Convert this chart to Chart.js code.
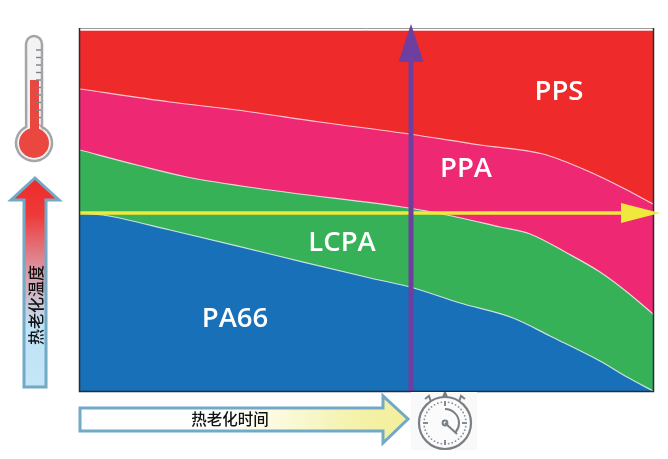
<!DOCTYPE html>
<html lang="zh">
<head>
<meta charset="utf-8">
<title>热老化温度与时间</title>
<script src="https://cdn.jsdelivr.net/npm/chart.js@4/dist/chart.umd.min.js"></script>
<style>html,body{margin:0;padding:0;background:#fff}canvas{display:block}</style>
</head>
<body>
<canvas id="c" width="668" height="459"></canvas>
<script>
// Boundaries: time (arbitrary 0..573), temperature (arbitrary 0..362)
const pa66Time = [0, 23, 90, 190, 290, 330, 380, 433, 470, 520, 547, 573];
const pa66Temp = [178, 176, 161, 137, 113, 104, 88, 73, 55, 30, 14, 0];
const lcpaTime = [0, 57, 107, 190, 329, 367, 420, 450, 487, 520, 547, 573];
const lcpaTemp = [241, 226, 214, 201, 183, 176, 164, 157, 138, 119, 99, 77];
const ppaTime = [0, 90, 157, 240, 329, 400, 463, 510, 545, 573];
const ppaTemp = [302, 289, 281, 269, 257, 246, 237, 219, 202, 187];
const ppsTime = [0, 573];
const ppsTemp = [362, 362];
const nowTime = [331, 331];
const nowTemp = [0, 329];
const refTime = [0, 541];
const refTemp = [178, 178];
const seriesNames = ['PA66', 'LCPA', 'PPA', 'PPS'];
const labelTime = [155, 262, 386, 479];
const labelTemp = [72, 148, 222, 299];
const tempAxisTitle = '热老化温度';
const timeAxisTitle = '热老化时间';

const pts = (xs, ys) => xs.map((x, i) => ({x, y: ys[i]}));
const band = (label, xs, ys, color) => ({
  label, data: pts(xs, ys), backgroundColor: color, fill: 'origin',
  borderColor: 'rgba(255,255,255,0.75)', borderWidth: 1.2, pointRadius: 0,
  cubicInterpolationMode: 'monotone'
});
const guide = (label, xs, ys, color, w) => ({
  label, data: pts(xs, ys), borderColor: color, borderWidth: w, pointRadius: 0, fill: false, clip: false
});

function poly(ctx, p) {
  ctx.beginPath();
  p.forEach((q, i) => i ? ctx.lineTo(q[0], q[1]) : ctx.moveTo(q[0], q[1]));
  ctx.closePath();
}

function drawThermometer(ctx) {
  ctx.save();
  // glass
  ctx.beginPath();
  ctx.moveTo(26, 44);
  ctx.arc(34, 44, 8, Math.PI, 0);
  ctx.lineTo(42, 127);
  ctx.arc(34, 143, 18, -Math.PI / 2 + 0.45, -Math.PI / 2 - 0.45);
  ctx.closePath();
  ctx.fillStyle = '#f3f3f4';
  ctx.fill();
  ctx.strokeStyle = '#a3a5a8';
  ctx.lineWidth = 2.5;
  ctx.stroke();
  // mercury
  ctx.fillStyle = '#e9473f';
  ctx.fillRect(30, 80, 9, 55);
  ctx.beginPath();
  ctx.arc(34, 143, 15, 0, Math.PI * 2);
  ctx.fill();
  // ticks
  ctx.strokeStyle = '#7d8185';
  ctx.lineWidth = 1.4;
  for (let y = 50; y <= 118; y += 7.5) {
    ctx.beginPath(); ctx.moveTo(36, y); ctx.lineTo(41, y); ctx.stroke();
  }
  ctx.restore();
}

function drawTempArrow(ctx) {
  ctx.save();
  const g = ctx.createLinearGradient(0, 177, 0, 388);
  g.addColorStop(0, '#ee2a2a');
  g.addColorStop(0.18, '#ee3a3a');
  g.addColorStop(0.42, '#dd8f9b');
  g.addColorStop(0.7, '#bfe3f6');
  g.addColorStop(1, '#c4e6f6');
  poly(ctx, [[35, 178], [59, 200], [46, 200], [46, 387], [24, 387], [24, 200], [11, 200]]);
  ctx.fillStyle = g;
  ctx.fill();
  ctx.strokeStyle = '#72a9c6';
  ctx.lineWidth = 3;
  ctx.lineJoin = 'miter';
  ctx.stroke();
  ctx.translate(36, 305);
  ctx.rotate(-Math.PI / 2);
  ctx.fillStyle = '#111111';
  ctx.font = '500 16px "Noto Sans CJK SC"';
  ctx.textAlign = 'center';
  ctx.textBaseline = 'middle';
  ctx.fillText(tempAxisTitle, 0, 0);
  ctx.restore();
}

function drawTimeArrow(ctx) {
  ctx.save();
  const g = ctx.createLinearGradient(80, 0, 409, 0);
  g.addColorStop(0, '#ffffff');
  g.addColorStop(0.45, '#ffffff');
  g.addColorStop(0.85, '#f4f1a8');
  g.addColorStop(1, '#f3ef9a');
  poly(ctx, [[80, 408], [383, 408], [383, 396], [408, 419], [383, 443], [383, 431], [80, 431]]);
  ctx.fillStyle = g;
  ctx.fill();
  ctx.strokeStyle = '#72a9c6';
  ctx.lineWidth = 3;
  ctx.stroke();
  ctx.fillStyle = '#111111';
  ctx.font = '500 15.5px "Noto Sans CJK SC"';
  ctx.textAlign = 'center';
  ctx.textBaseline = 'middle';
  ctx.fillText(timeAxisTitle, 230, 419);
  ctx.restore();
}

function drawStopwatch(ctx) {
  ctx.save();
  const cx = 445, cy = 423, r = 26;
  ctx.fillStyle = '#f9f9f9';
  ctx.fillRect(411, 392, 66, 58);
  ctx.strokeStyle = '#787f85';
  ctx.fillStyle = '#787f85';
  // crown and ears
  poly(ctx, [[442, 397], [448, 397], [446, 392], [444, 392]]);
  ctx.fill();
  ctx.lineWidth = 2;
  ctx.beginPath(); ctx.moveTo(425, 399); ctx.lineTo(429, 396); ctx.lineTo(431, 402); ctx.stroke();
  ctx.beginPath(); ctx.moveTo(465, 399); ctx.lineTo(461, 396); ctx.lineTo(459, 402); ctx.stroke();
  // case
  ctx.beginPath();
  ctx.arc(cx, cy, r, 0, Math.PI * 2);
  ctx.fillStyle = '#fbfbfb';
  ctx.fill();
  ctx.lineWidth = 2.2;
  ctx.stroke();
  // dial
  ctx.fillStyle = '#8a9096';
  for (let i = 0; i < 36; i++) {
    if (i % 9 === 0) continue;
    const a = i / 36 * Math.PI * 2;
    ctx.beginPath();
    ctx.arc(cx + Math.cos(a) * 21, cy + Math.sin(a) * 21, 0.9, 0, Math.PI * 2);
    ctx.fill();
  }
  ctx.lineWidth = 1.8;
  for (let i = 0; i < 4; i++) {
    const a = i / 4 * Math.PI * 2;
    ctx.beginPath();
    ctx.moveTo(cx + Math.cos(a) * 17, cy + Math.sin(a) * 17);
    ctx.lineTo(cx + Math.cos(a) * 22, cy + Math.sin(a) * 22);
    ctx.stroke();
  }
  // sweep and hand
  ctx.lineWidth = 2;
  ctx.beginPath();
  ctx.arc(cx, cy, 14, -Math.PI / 2, 0.7);
  ctx.stroke();
  ctx.beginPath();
  ctx.moveTo(cx, cy);
  ctx.lineTo(cx + 12, cy + 11);
  ctx.stroke();
  ctx.beginPath();
  ctx.arc(cx, cy, 2.4, 0, Math.PI * 2);
  ctx.stroke();
  ctx.restore();
}

const overlay = {
  id: 'overlay',
  afterDraw(chart) {
    const {ctx, scales: {x, y}, chartArea: a} = chart;
    // frame
    ctx.save();
    ctx.strokeStyle = 'rgba(255,225,225,0.8)';
    ctx.lineWidth = 1;
    ctx.beginPath(); ctx.moveTo(a.left, a.top + 0.5); ctx.lineTo(a.right, a.top + 0.5); ctx.stroke();
    ctx.strokeStyle = '#9a9a9a';
    ctx.beginPath(); ctx.moveTo(a.left - 1, a.top - 1.5); ctx.lineTo(a.right + 1, a.top - 1.5); ctx.stroke();
    ctx.strokeStyle = '#2b2b33';
    ctx.lineWidth = 1.5;
    ctx.beginPath();
    ctx.moveTo(a.left - 0.5, a.top - 2);
    ctx.lineTo(a.left - 0.5, a.bottom + 0.5);
    ctx.lineTo(a.right + 0.5, a.bottom + 0.5);
    ctx.lineTo(a.right + 0.5, a.top - 2);
    ctx.stroke();

    // arrow heads at the ends of the guide lines
    const hx = x.getPixelForValue(refTime[1]), hy = y.getPixelForValue(refTemp[1]);
    ctx.fillStyle = '#f0e83c';
    poly(ctx, [[hx, hy - 10], [hx + 39, hy], [hx, hy + 10]]);
    ctx.fill();
    const vx = x.getPixelForValue(nowTime[1]), vy = y.getPixelForValue(nowTemp[1]);
    ctx.fillStyle = '#6e3f9f';
    poly(ctx, [[vx - 12.5, vy], [vx, vy - 38], [vx + 12.5, vy]]);
    ctx.fill();

    // series names
    ctx.fillStyle = '#ffffff';
    ctx.font = '600 27.5px "Open Sans"';
    ctx.textAlign = 'center';
    ctx.textBaseline = 'middle';
    seriesNames.forEach((n, i) => {
      ctx.fillText(n, x.getPixelForValue(labelTime[i]), y.getPixelForValue(labelTemp[i]));
    });
    ctx.restore();

    drawThermometer(ctx);
    drawTempArrow(ctx);
    drawTimeArrow(ctx);
    drawStopwatch(ctx);
  }
};

new Chart(document.getElementById('c'), {
  type: 'scatter',
  data: {
    datasets: [
      guide('当前时间', nowTime, nowTemp, '#6e3f9f', 5),
      guide('当前温度', refTime, refTemp, '#f0e83c', 3.5),
      band('PA66', pa66Time, pa66Temp, '#1770b8'),
      band('LCPA', lcpaTime, lcpaTemp, '#36b158'),
      band('PPA', ppaTime, ppaTemp, '#ef2874'),
      band('PPS', ppsTime, ppsTemp, '#ee2a2a')
    ]
  },
  options: {
    responsive: false,
    animation: false,
    showLine: true,
    layout: {padding: {left: 80, top: 30, right: 15, bottom: 68}},
    plugins: {legend: {display: false}, tooltip: {enabled: false}},
    scales: {
      x: {type: 'linear', min: 0, max: 573, display: false},
      y: {type: 'linear', min: 0, max: 361, display: false}
    }
  },
  plugins: [overlay]
});
</script>
</body>
</html>
